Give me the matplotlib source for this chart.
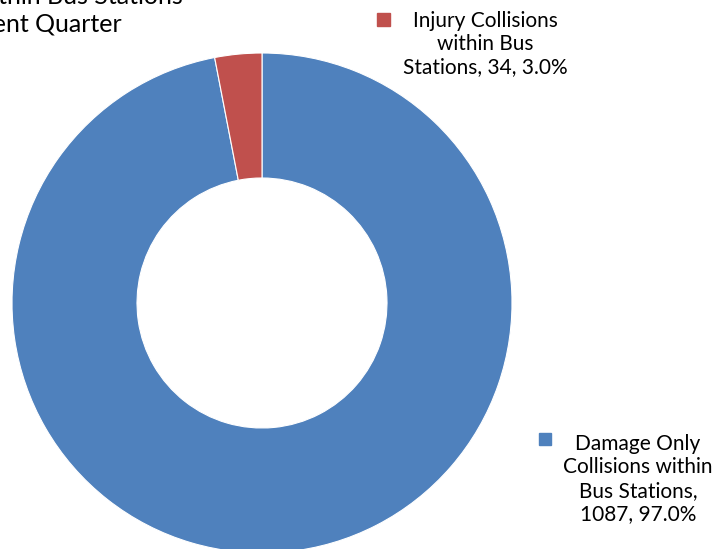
import numpy as np
import matplotlib.pyplot as plt

plt.rcParams['font.family'] = ['Lato', 'DejaVu Sans']

categories = ['Damage Only Collisions within Bus Stations', 'Injury Collisions within Bus Stations']
counts = [1087, 34]
shares = [97.0, 3.0]
colors = ['#4F81BD', '#C0504D']
title_lines = ['Collisions within Bus Stations', 'Current Quarter']

W, H = 720, 549
fig = plt.figure(figsize=(W / 100, H / 100), dpi=100)


def px(x, y):
    # pixel coords from top-left -> figure fraction
    return x / W, 1 - y / H


# donut: centre (262, 303), outer radius 250
cx, cy, r = 262, 303, 250
ax = fig.add_axes([(cx - r) / W, 1 - (cy + r) / H, 2 * r / W, 2 * r / H])
ax.pie(counts, colors=colors, startangle=90, counterclock=False,
       wedgeprops=dict(width=0.5, edgecolor='white', linewidth=0.8))
ax.set_xlim(-1, 1)
ax.set_ylim(-1, 1)
ax.set_aspect('equal')
ax.axis('off')

# title (cut off at the edge as in the source image)
fig.text(*px(183, -3), title_lines[0], ha='right', va='center', fontsize=18)
fig.text(*px(122, 24), title_lines[1], ha='right', va='center', fontsize=18)

# data labels with legend keys
red_label = 'Injury Collisions\nwithin Bus\nStations, %d, %.1f%%' % (counts[1], shares[1])
blue_label = 'Damage Only\nCollisions within\nBus Stations,\n%d, %.1f%%' % (counts[0], shares[0])

fig.text(*px(485, 44), red_label, ha='center', va='center', fontsize=15,
         multialignment='center', linespacing=1.2)
fig.text(*px(638, 479), blue_label, ha='center', va='center', fontsize=15,
         multialignment='center', linespacing=1.2)

fig.patches.append(plt.Rectangle(px(377, 26), 13 / W, 13 / H, color=colors[1],
                                 transform=fig.transFigure, figure=fig))
fig.patches.append(plt.Rectangle(px(539, 445), 12 / W, 12 / H, color=colors[0],
                                 transform=fig.transFigure, figure=fig))

fig.savefig('out.png', dpi=100)
